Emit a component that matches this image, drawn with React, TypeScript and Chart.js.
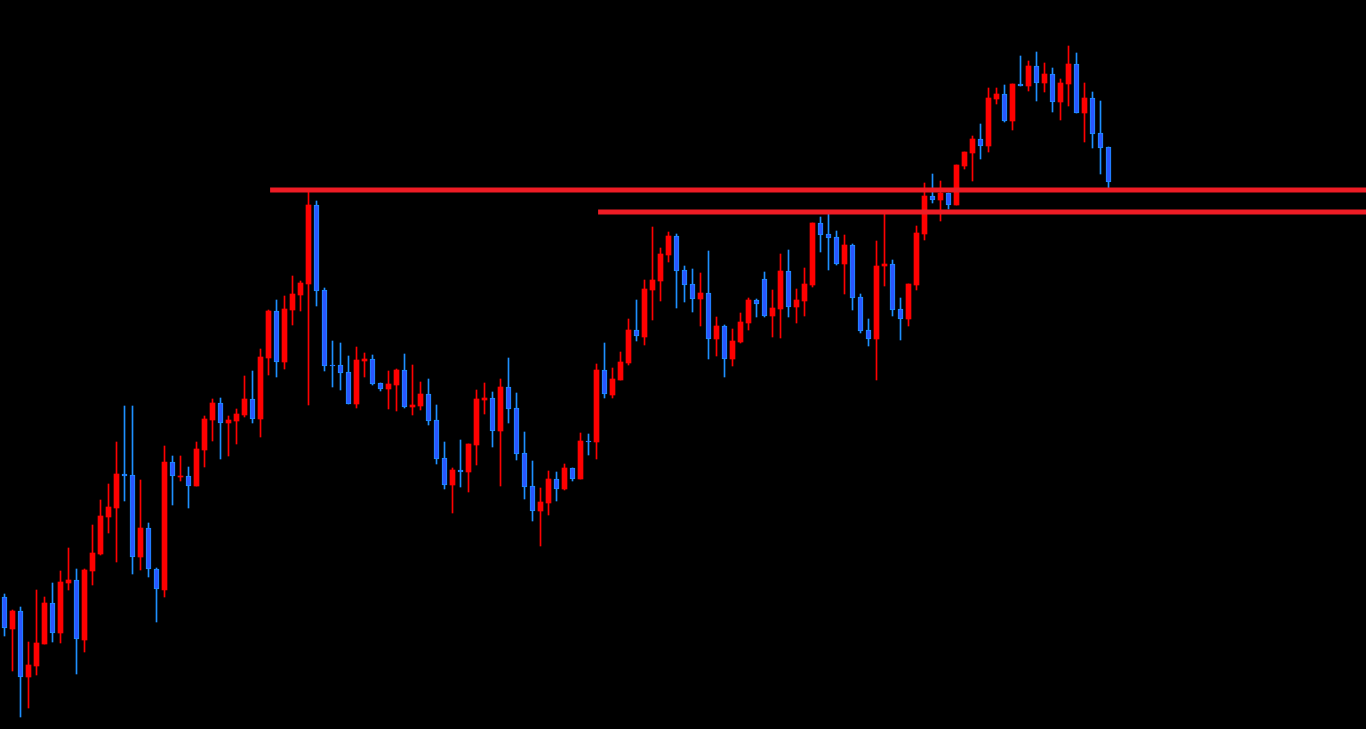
import React, { useEffect, useRef } from "react";
import { Chart, registerables } from "chart.js";

Chart.register(...registerables);

// Price levels are read on a screen-like scale (smaller value = higher on chart; axis reversed)
const opens = [597,629,611,677,666,644,603,633,583,580,640,571,554,517,508,474,475,557,528,569,590,462,477,476,486,450,420,403,423,421,415,399,419,358,311,362,310,295,284,205,290,365,365,372,404,361,359,383,389,385,370,407,406,394,420,458,485,470,472,445,400,398,431,387,408,453,486,511,503,479,489,468,479,441,442,370,395,380,363,330,337,290,281,255,236,270,284,299,293,339,326,359,342,323,300,279,316,309,271,307,301,285,223,234,237,264,245,297,330,339,266,264,309,319,285,234,196,200,193,205,166,153,139,146,99,94,121,84,86,66,83,74,102,84,64,113,98,133,147];
const highs = [594,610,607,642,590,597,583,571,548,569,569,525,500,484,442,406,406,480,523,568,446,456,456,467,442,416,399,398,416,409,376,371,349,310,300,296,276,281,192,201,288,341,343,356,347,353,355,383,371,369,354,365,382,379,405,442,468,440,444,390,383,392,379,358,393,432,461,488,471,472,464,468,433,434,364,343,368,352,319,300,280,227,248,232,234,266,269,273,251,317,325,329,313,298,299,272,290,254,250,289,268,223,217,213,231,235,244,294,319,241,213,260,298,284,226,183,174,181,193,165,152,136,124,88,88,85,84,56,61,52,63,68,79,46,53,83,92,101,147];
const lows = [636,671,717,708,675,644,642,643,590,674,652,585,555,533,562,501,574,570,577,622,597,505,481,508,486,467,441,459,456,444,417,423,437,375,377,369,325,311,405,306,371,387,390,404,408,377,385,391,409,411,408,415,410,425,464,489,513,487,492,465,414,447,486,423,460,499,521,546,515,501,490,481,479,455,459,398,398,380,365,341,345,320,301,262,308,302,312,326,359,356,377,366,343,330,317,317,337,338,317,323,316,287,252,270,265,294,310,333,346,380,286,316,340,326,290,240,203,221,209,205,169,181,159,152,104,122,130,86,91,101,92,112,120,106,113,142,148,174,188];
const closes = [628,611,677,665,643,603,633,582,580,639,570,553,516,507,474,476,557,528,569,589,462,476,476,486,449,419,403,423,420,414,399,419,357,311,362,309,294,283,205,291,366,366,373,404,360,359,384,389,384,370,407,405,394,421,459,485,470,472,444,399,398,431,387,409,454,487,511,502,479,489,468,479,441,442,370,394,379,362,330,336,289,280,254,236,271,285,299,293,339,326,359,341,322,300,304,316,308,271,307,300,284,223,235,238,264,245,298,331,339,266,264,310,319,284,233,196,200,193,205,165,152,139,146,98,94,121,84,86,66,83,74,102,83,64,113,98,134,148,182];

// Horizontal resistance levels: start position (in candle index units) and level
const levelStarts = [33.2, 74.2];
const levelValues = [190, 212];

const UP = "#ff0000";
const DOWN_FILL = "#2a56ff";
const DOWN_EDGE = "#1e90ff";
const LEVEL_COLOR = "#ee1c25";

const WIDTH = 1366;
const HEIGHT = 729;
const SLOT = 8;

export default function App() {
  const ref = useRef<HTMLCanvasElement | null>(null);

  useEffect(() => {
    document.body.style.margin = "0";
    document.body.style.background = "#000";
    const canvas = ref.current;
    if (!canvas) return;

    const isUp = opens.map((o, i) => closes[i] < o);
    const xMin = -0.5625;
    const xMax = xMin + WIDTH / SLOT;

    const bodies = opens.map((o, i) => ({ x: i, y: [o, closes[i]] }));
    const wicks = opens.map((_, i) => ({ x: i, y: [highs[i], lows[i]] }));
    const levels = levelValues.map((v, k) => ({
      type: "line" as const,
      data: [
        { x: levelStarts[k], y: v },
        { x: xMax + 1, y: v },
      ],
      borderColor: LEVEL_COLOR,
      borderWidth: 5,
      pointRadius: 0,
      borderCapStyle: "butt" as const,
      order: 0,
    }));

    const chart = new Chart(canvas, {
      type: "bar",
      data: {
        datasets: [
          ...levels,
          {
            type: "bar",
            data: bodies as any,
            backgroundColor: isUp.map((u) => (u ? UP : DOWN_FILL)),
            borderColor: isUp.map((u) => (u ? UP : DOWN_EDGE)),
            borderWidth: isUp.map((u) => (u ? 0 : 1)),
            borderSkipped: false,
            barThickness: 5,
            minBarLength: 1,
            grouped: false,
            order: 1,
          },
          {
            type: "bar",
            data: wicks as any,
            backgroundColor: isUp.map((u) => (u ? UP : DOWN_EDGE)),
            borderWidth: 0,
            barThickness: 1,
            grouped: false,
            order: 2,
          },
        ] as any,
      },
      options: {
        responsive: false,
        animation: false,
        events: [],
        layout: { padding: 0 },
        plugins: {
          legend: { display: false },
          tooltip: { enabled: false },
        },
        scales: {
          x: {
            type: "linear",
            min: xMin,
            max: xMax,
            display: false,
            offset: false,
          },
          y: {
            type: "linear",
            min: 0,
            max: HEIGHT,
            reverse: true,
            display: false,
          },
        },
      },
    });
    return () => chart.destroy();
  }, []);

  return (
    <div style={{ width: WIDTH, height: HEIGHT, background: "#000" }}>
      <canvas ref={ref} width={WIDTH} height={HEIGHT} style={{ display: "block" }} />
    </div>
  );
}
